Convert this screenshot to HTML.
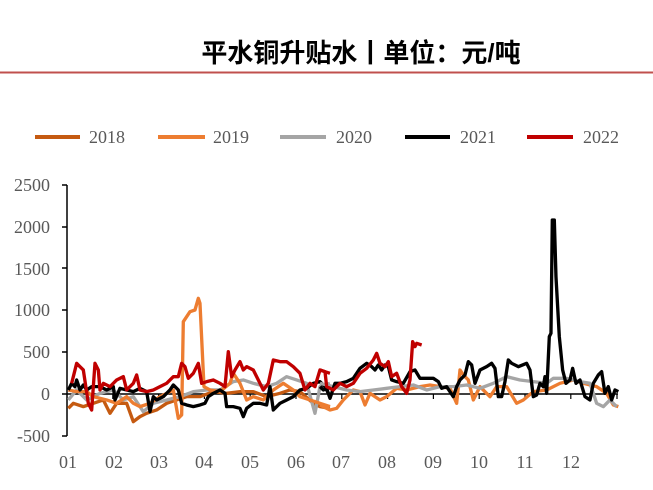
<!DOCTYPE html>
<html><head><meta charset="utf-8"><style>
body{margin:0;background:#fff;width:653px;height:485px;overflow:hidden;}
</style></head><body>
<svg width="653" height="485" xmlns="http://www.w3.org/2000/svg" font-family="'Liberation Serif','Noto Serif CJK SC',serif">
<text x="361" y="62" text-anchor="middle" font-family="'Liberation Sans','Noto Sans CJK SC',sans-serif" font-weight="bold" font-size="26" fill="#000">平水铜升贴水丨单位：元/吨</text>
<line x1="0" y1="72.5" x2="653" y2="72.5" stroke="#C0504D" stroke-width="2"/>
<g font-size="18" fill="#595959">
<line x1="35" y1="137" x2="80" y2="137" stroke="#C55A11" stroke-width="4"/><text x="89" y="143">2018</text>
<line x1="158" y1="137" x2="205" y2="137" stroke="#ED7D31" stroke-width="4"/><text x="213" y="143">2019</text>
<line x1="280" y1="137" x2="326" y2="137" stroke="#A5A5A5" stroke-width="4"/><text x="336" y="143">2020</text>
<line x1="405" y1="137" x2="450" y2="137" stroke="#000" stroke-width="4"/><text x="460" y="143">2021</text>
<line x1="527" y1="137" x2="573" y2="137" stroke="#C00000" stroke-width="4"/><text x="583" y="143">2022</text>
</g>
<g font-size="18" fill="#595959" text-anchor="end">
<text x="50" y="191">2500</text><text x="50" y="233">2000</text><text x="50" y="275">1500</text>
<text x="50" y="316">1000</text><text x="50" y="358">500</text><text x="50" y="400">0</text><text x="50" y="442">-500</text>
</g>
<g stroke="#000" stroke-width="1.5">
<line x1="67" y1="185" x2="67" y2="436"/>
<line x1="62" y1="185" x2="67" y2="185"/><line x1="62" y1="227" x2="67" y2="227"/><line x1="62" y1="268" x2="67" y2="268"/><line x1="62" y1="310" x2="67" y2="310"/><line x1="62" y1="352" x2="67" y2="352"/><line x1="62" y1="394" x2="67" y2="394"/><line x1="62" y1="436" x2="67" y2="436"/>
<line x1="67" y1="394" x2="618" y2="394"/>
</g>
<g stroke="#000" stroke-width="1.2">
<line x1="112.8" y1="394" x2="112.8" y2="399"/><line x1="158.6" y1="394" x2="158.6" y2="399"/><line x1="204.4" y1="394" x2="204.4" y2="399"/><line x1="250.2" y1="394" x2="250.2" y2="399"/><line x1="296" y1="394" x2="296" y2="399"/><line x1="341.8" y1="394" x2="341.8" y2="399"/><line x1="387.6" y1="394" x2="387.6" y2="399"/><line x1="433.4" y1="394" x2="433.4" y2="399"/><line x1="479.2" y1="394" x2="479.2" y2="399"/><line x1="525" y1="394" x2="525" y2="399"/><line x1="570.8" y1="394" x2="570.8" y2="399"/><line x1="617" y1="394" x2="617" y2="399"/>
</g>
<g font-size="18" fill="#595959" text-anchor="middle">
<text x="68" y="468">01</text><text x="114" y="468">02</text><text x="159" y="468">03</text><text x="204" y="468">04</text><text x="250" y="468">05</text><text x="296" y="468">06</text><text x="341" y="468">07</text><text x="387" y="468">08</text><text x="433" y="468">09</text><text x="479" y="468">10</text><text x="525" y="468">11</text><text x="571" y="468">12</text>
</g>
<g fill="none" stroke-width="10" stroke-linejoin="round">
<g transform="translate(0,170) scale(0.3333)">
<polyline stroke="#C55A11" points="205,715 220,700 250,710 280,700 310,690 330,730 350,700 380,700 400,755 420,740 440,730 470,720 500,700 530,690 560,680 600,680 640,665 680,670 720,665 760,665 800,680 840,670 870,660 900,665 940,700 960,710 990,715"/>
<polyline stroke="#A5A5A5" points="205,690 230,660 260,690 300,670 340,660 370,690 400,680 430,725 460,700 500,690 540,680 580,665 620,660 660,660 700,635 730,630 760,640 800,650 830,640 860,620 890,630 920,640 945,730 960,650 990,640"/>
<polyline stroke="#ED7D31" points="205,660 230,665 260,665 280,680 320,690 350,700 380,680 400,700 420,710 450,700 480,680 500,670 520,660 535,745 545,735 550,455 560,440 570,425 585,420 595,385 600,400 612,650 630,660 660,665 690,640 700,610 720,640 740,690 760,680 790,690 820,660 850,640 880,660 900,680 930,690 960,700 990,710"/>
<polyline stroke="#000" points="205,660 215,640 225,650 230,630 240,660 250,645 260,660 275,650 300,650 320,660 340,650 345,690 360,655 380,660 400,665 420,655 440,665 450,725 460,680 470,690 490,680 510,660 520,645 535,660 545,700 560,705 580,710 600,705 615,700 625,680 640,670 660,660 675,670 680,710 700,710 720,715 730,740 740,715 760,700 780,700 800,705 810,650 820,720 840,700 860,690 880,680 900,660 920,655 940,640 960,635 975,650 990,680"/>
<polyline stroke="#C00000" points="215,640 230,580 240,590 250,600 265,700 275,720 285,580 295,600 300,660 310,640 330,650 350,630 370,620 380,660 400,640 410,615 420,660 440,665 460,660 480,650 500,640 520,620 535,620 545,580 555,590 565,625 580,610 595,580 605,640 620,635 640,630 660,640 675,650 685,545 695,620 705,600 720,575 730,600 740,590 760,600 780,640 790,660 805,640 820,570 840,575 860,575 880,590 900,610 915,660 930,640 945,650 960,600 975,605 990,610"/>
</g>
<g transform="translate(320,170) scale(0.3333)">
<polyline stroke="#ED7D31" points="0,705 30,720 50,715 70,690 100,660 120,665 135,705 150,670 180,690 200,680 230,655 260,660 300,650 330,645 360,650 390,655 410,700 420,600 430,615 445,630 460,690 480,650 510,680 530,650 560,650 590,700 610,690 640,665 680,660 720,640 760,630 790,640 830,650 860,670 880,705 895,710"/>
<polyline stroke="#A5A5A5" points="0,640 40,650 80,660 120,665 160,660 200,655 240,650 280,645 320,660 360,650 400,650 440,645 480,655 520,640 560,620 600,630 640,635 680,640 700,625 740,625 780,635 810,640 830,700 850,710 870,690 890,710"/>
<polyline stroke="#000" points="0,650 10,660 20,655 30,685 45,640 60,640 80,635 100,625 120,595 140,580 155,590 165,600 175,585 185,600 195,585 205,590 215,630 230,635 250,640 270,605 285,600 300,625 340,625 355,635 365,655 380,650 390,665 400,680 410,650 420,630 435,615 445,575 455,585 465,640 480,600 500,590 515,580 525,595 535,680 545,680 555,635 565,570 575,580 595,590 620,580 630,600 640,680 650,675 660,640 670,650 675,620 680,670 688,500 693,490 697,150 703,150 708,320 718,500 728,600 738,640 750,630 758,595 768,640 780,630 795,680 810,690 820,640 835,615 845,605 855,670 865,650 875,690 885,660 895,665"/>
<polyline stroke="#C00000" points="0,600 15,605 20,650 40,660 60,640 80,650 100,640 120,610 140,595 160,570 170,550 180,580 195,590 205,575 215,620 230,610 245,650 260,670 270,630 278,515 285,530 290,520 305,525"/>
</g>
</g>
</svg>
</body></html>
